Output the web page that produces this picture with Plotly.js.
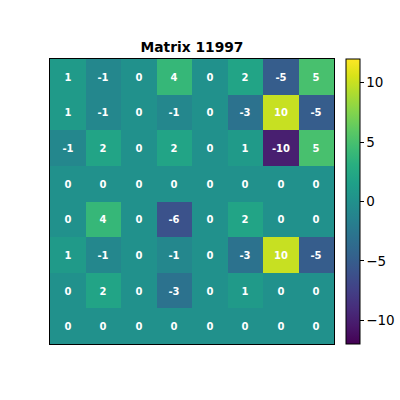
<!DOCTYPE html>
<html><head><meta charset="utf-8">
<script src="https://cdn.plot.ly/plotly-3.0.1.min.js"></script>
<style>body{margin:0;background:#fff}#c{width:400px;height:400px}</style>
</head><body><div id="c"></div>
<script>
const cols = [0,1,2,3,4,5,6,7];
const rows = [0,1,2,3,4,5,6,7];
const values = [
  [1,-1,0,4,0,2,-5,5],
  [1,-1,0,-1,0,-3,10,-5],
  [-1,2,0,2,0,1,-10,5],
  [0,0,0,0,0,0,0,0],
  [0,4,0,-6,0,2,0,0],
  [1,-1,0,-1,0,-3,10,-5],
  [0,2,0,-3,0,1,0,0],
  [0,0,0,0,0,0,0,0]
];
const cbTicks = [-10,-5,0,5,10];
const title = "Matrix 11997";
const labels = values.map(r => r.map(v => String(v)));

Plotly.newPlot('c', [{
  type:'heatmap', x:cols, y:rows, z:values, text:labels,
  zmin:-12, zmax:12, colorscale:'Viridis',
  texttemplate:'%{text}',
  textfont:{family:'DejaVu Sans', size:10, color:'white', weight:'bold'},
  hoverinfo:'none',
  colorbar:{x:1.042, xanchor:'left', xref:'paper', y:0.5, yanchor:'middle', len:1.0, lenmode:'fraction',
    ypad:0, xpad:0,
    thickness:14, outlinewidth:1, outlinecolor:'black',
    tickvals:cbTicks, ticks:'outside', ticklen:3.5, tickcolor:'black',
    tickfont:{family:'DejaVu Sans', size:13.5, color:'black'}}
}], {
  width:400, height:400,
  margin:{l:50, r:66, t:59, b:56, autoexpand:false},
  paper_bgcolor:'white', plot_bgcolor:'white',
  title:{text:title, x:0.5, xref:'paper', xanchor:'center', y:1-47/400, yanchor:'middle',
    font:{family:'DejaVu Sans', size:13.8, color:'black', weight:'bold'}},
  xaxis:{showticklabels:false, ticks:'', showgrid:false, zeroline:false, showline:true, mirror:true, linecolor:'black', linewidth:1},
  yaxis:{autorange:'reversed', showticklabels:false, ticks:'', showgrid:false, zeroline:false, showline:true, mirror:true, linecolor:'black', linewidth:1},
  font:{family:'DejaVu Sans'}
}, {staticPlot:true});
</script></body></html>
